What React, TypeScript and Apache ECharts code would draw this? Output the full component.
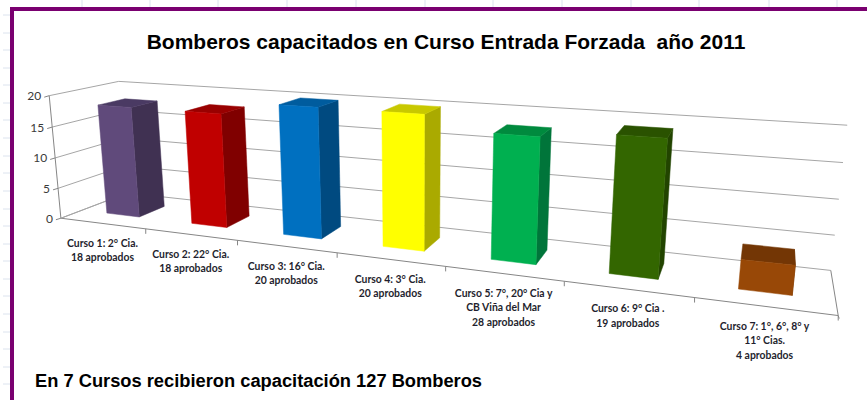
import React, { useEffect, useRef } from "react";
import * as echarts from "echarts";

const titleText = "Bomberos capacitados en Curso Entrada Forzada  año 2011";
const footerText = "En 7 Cursos recibieron capacitación 127 Bomberos";
const categories = [
  "Curso 1: 2° Cia.\n18 aprobados",
  "Curso 2: 22° Cia.\n18 aprobados",
  "Curso 3: 16° Cia.\n20 aprobados",
  "Curso 4: 3° Cia.\n20 aprobados",
  "Curso 5: 7°, 20° Cia y\nCB Viña del Mar\n28 aprobados",
  "Curso 6: 9° Cia .\n19 aprobados",
  "Curso 7: 1°, 6°, 8° y\n11° Cias.\n4 aprobados",
];
const values = [18, 18, 20, 20, 18, 19, 4];
const valueTicks = [0, 5, 10, 15, 20];
const frontColors = ["#604A7B", "#C00000", "#0070C0", "#FFFF00", "#00B050", "#336600", "#984807"];
const sideColors = ["#403152", "#800000", "#004A80", "#AAAA00", "#00753A", "#224400", "#6B3205"];
const topColors = ["#4A3A63", "#990000", "#005C9E", "#C8C800", "#008A3E", "#2A5200", "#733605"];

// Camera calibration: where the corners of the plot box fall on the page.
const calibration: number[][] = [
  [0, 0, 0, 62.5, 218], [1, 0, 0, 838, 316], [0, 0, 1, 126, 194], [1, 0, 1, 831, 269],
  [0, 1, 1, 120, 81], [1, 1, 1, 847, 126], [0, 1, 0, 48, 96], [0, 0.5, 0, 55, 157], [1, 0.5, 1, 839, 199],
  [1 / 7, 0, 0, 145.7, 229], [2 / 7, 0, 0, 237.7, 240.2], [3 / 7, 0, 0, 336.7, 252.7],
  [4 / 7, 0, 0, 445.7, 266.5], [5 / 7, 0, 0, 564, 281.4], [6 / 7, 0, 0, 695, 298],
];

function solveCamera(points: number[][]): number[] {
  const n = 11;
  const A: number[][] = Array.from({ length: n }, () => new Array(n + 1).fill(0));
  const add = (row: number[], rhs: number) => {
    for (let i = 0; i < n; i++) {
      for (let j = 0; j < n; j++) A[i][j] += row[i] * row[j];
      A[i][n] += row[i] * rhs;
    }
  };
  for (const [X, Y, Z, px, py] of points) {
    const u = px / 1000, v = py / 1000;
    add([X, Y, Z, 1, 0, 0, 0, 0, -u * X, -u * Y, -u * Z], u);
    add([0, 0, 0, 0, X, Y, Z, 1, -v * X, -v * Y, -v * Z], v);
  }
  for (let c = 0; c < n; c++) {
    let p = c;
    for (let r = c + 1; r < n; r++) if (Math.abs(A[r][c]) > Math.abs(A[p][c])) p = r;
    [A[c], A[p]] = [A[p], A[c]];
    for (let r = 0; r < n; r++) {
      if (r === c) continue;
      const f = A[r][c] / A[c][c];
      for (let k = c; k <= n; k++) A[r][k] -= f * A[c][k];
    }
  }
  return A.map((row, i) => row[n] / row[i]);
}
const cam = solveCamera(calibration);
const project = (x: number, y: number, z: number): number[] => {
  const w = cam[8] * x + cam[9] * y + cam[10] * z + 1;
  return [
    (1000 * (cam[0] * x + cam[1] * y + cam[2] * z + cam[3])) / w,
    (1000 * (cam[4] * x + cam[5] * y + cam[6] * z + cam[7])) / w,
  ];
};

const unit = (params: any, api: any, cat: number, val: number) => {
  const r = params.coordSys;
  const p = api.coord([cat, val]);
  return [(p[0] - r.x) / r.width, (r.y + r.height - p[1]) / r.height];
};
const line = (a: number[], b: number[], stroke: string, lineWidth = 1) => ({
  type: "line",
  silent: true,
  shape: { x1: a[0], y1: a[1], x2: b[0], y2: b[1] },
  style: { stroke, lineWidth },
});

const GRID = "#A6A6A6";
const AXIS = "#868686";
const BAR_W = 0.39 / 7;
const Z0 = 0.3;
const Z1 = 0.7;

const renderWalls = (params: any, api: any) => {
  const [, y] = unit(params, api, 0, api.value(1));
  const f = project(0, y, 0), b = project(0, y, 1), e = project(1, y, 1);
  const tickEnd = [f[0] - 5, f[1] + 1.5];
  const children: any[] = [line(f, b, GRID), line(b, e, GRID), line(f, tickEnd, AXIS)];
  children.push({
    type: "text",
    silent: true,
    style: {
      x: f[0] - 8, y: f[1], text: String(api.value(1)), align: "right", verticalAlign: "middle",
      font: '12px Lato', fill: "#3A3A3A",
    },
  });
  return { type: "group", children };
};

const renderFloor = (params: any, api: any) => {
  const i = api.value(0);
  const [t] = unit(params, api, i, 0);
  const half = 0.5 / categories.length;
  const right = project(t + half, 0, 0);
  const mid = project(t, 0, 0);
  return {
    type: "group",
    children: [
      line(right, [right[0], right[1] + 5], AXIS),
      {
        type: "text",
        silent: true,
        style: {
          x: mid[0], y: mid[1] + 12, text: categories[i], align: "center", verticalAlign: "top",
          font: 'bold 10.4px Lato', lineHeight: 14.5, fill: "#1F1F2E",
        },
      },
    ],
  };
};

const renderBar = (params: any, api: any) => {
  const i = api.value(0);
  const [t, y] = unit(params, api, i, api.value(1));
  const l = t - BAR_W / 2, r = t + BAR_W / 2;
  const poly = (pts: number[][], fill: string) => ({
    type: "polygon",
    silent: true,
    shape: { points: pts },
    style: { fill, stroke: fill, lineWidth: 0.5 },
  });
  return {
    type: "group",
    children: [
      poly([project(r, 0, Z0), project(r, 0, Z1), project(r, y, Z1), project(r, y, Z0)], sideColors[i]),
      poly([project(l, y, Z0), project(r, y, Z0), project(r, y, Z1), project(l, y, Z1)], topColors[i]),
      poly([project(l, 0, Z0), project(r, 0, Z0), project(r, y, Z0), project(l, y, Z0)], frontColors[i]),
    ],
  };
};

const renderBox = () => {
  const a = project(0, 0, 0), b = project(1, 0, 0), c = project(1, 0, 1), d = project(0, 0, 1);
  return {
    type: "group",
    children: [
      line(a, b, AXIS),
      line(b, c, AXIS),
      line(a, project(0, 1, 0), AXIS),
      line(a, d, GRID),
      line(b, [b[0] + 1, b[1] + 3], AXIS),
    ],
  };
};

const sheetColumns = [82, 150, 218, 287, 356, 425, 493, 562, 631, 699, 769, 837];
const sheetRows = [15, 33, 50, 68, 85, 103, 120, 138, 156, 173, 191, 209, 226, 244, 261, 279, 296, 314, 332, 349, 367, 384];

export default function App() {
  const ref = useRef<HTMLDivElement>(null);
  useEffect(() => {
    document.body.style.margin = "0";
    const chart = echarts.init(ref.current!, null, { renderer: "svg" });
    chart.setOption({
      animation: false,
      backgroundColor: "#FFFFFF",
      title: [
        {
          text: titleText, left: 441, top: 26, textAlign: "center",
          textStyle: { fontFamily: "Liberation Sans", fontWeight: "bold", fontSize: 21, color: "#000000" },
        },
        {
          text: footerText, left: 30, top: 366,
          textStyle: { fontFamily: "Liberation Sans", fontWeight: "bold", fontSize: 18.3, color: "#000000" },
        },
      ],
      grid: { left: 0, right: 0, top: 0, bottom: 0 },
      xAxis: { type: "category", data: categories, show: false },
      yAxis: { type: "value", min: 0, max: 20, interval: 5, show: false },
      graphic: [
        ...sheetColumns.map((x) => ({
          type: "line", silent: true, z: -1, shape: { x1: x, y1: 0, x2: x, y2: 7 }, style: { stroke: "#DCE3EE", lineWidth: 1 },
        })),
        ...sheetRows.map((y) => ({
          type: "line", silent: true, z: -1, shape: { x1: 3, y1: y, x2: 10, y2: y }, style: { stroke: "#DCE3EE", lineWidth: 1 },
        })),
        { type: "rect", silent: true, shape: { x: 10, y: 7, width: 857, height: 4 }, style: { fill: "#7A0070" } },
        { type: "rect", silent: true, shape: { x: 10, y: 7, width: 4, height: 393 }, style: { fill: "#7A0070" } },
      ],
      series: [
        { type: "custom", clip: false, z: 1, renderItem: renderWalls, data: valueTicks.map((v) => [0, v]) },
        { type: "custom", clip: false, z: 2, renderItem: renderBox, data: [[0, 0]] },
        { type: "custom", clip: false, z: 2, renderItem: renderFloor, data: categories.map((_, i) => [i, 0]) },
        { type: "custom", clip: false, z: 3, renderItem: renderBar, data: values.map((v, i) => [i, v]) },
      ],
    });
    return () => chart.dispose();
  }, []);
  return <div ref={ref} style={{ width: 867, height: 400 }} />;
}
